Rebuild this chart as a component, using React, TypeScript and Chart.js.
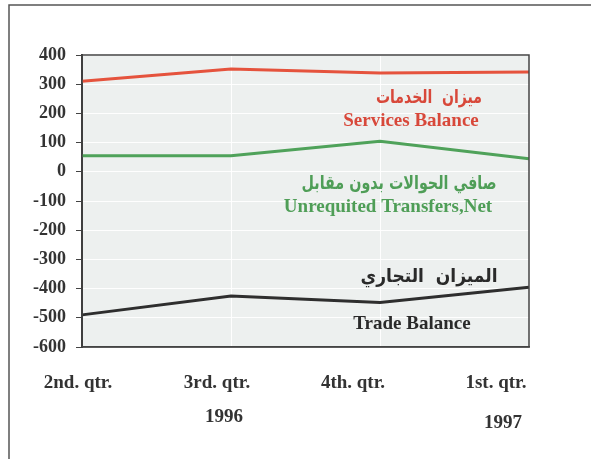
import React, { useEffect, useRef } from "react";
import { Chart, registerables } from "chart.js";

Chart.register(...registerables);

const categories = ["2nd. qtr.", "3rd. qtr.", "4th. qtr.", "1st. qtr."];
const yearLabels = ["", "1996", "", "1997"];
const servicesBalance = [310, 352, 338, 342];
const unrequitedTransfers = [55, 55, 105, 45];
const tradeBalance = [-490, -425, -448, -395];
const yTicks = [400, 300, 200, 100, 0, -100, -200, -300, -400, -500, -600];

const annotations = [
  { text: "ميزان  الخدمات", x: 429, y: 98, w: 106, color: "#d8483a", font: "bold 19px 'DejaVu Sans'" },
  { text: "Services Balance", x: 411, y: 121, w: 0, color: "#d8483a", font: "bold 19px 'Liberation Serif'" },
  { text: "صافي الحوالات بدون مقابل", x: 399, y: 184, w: 195, color: "#4f9e57", font: "bold 19px 'DejaVu Sans'" },
  { text: "Unrequited Transfers,Net", x: 388, y: 207, w: 0, color: "#4f9e57", font: "bold 19px 'Liberation Serif'" },
  { text: "الميزان  التجاري", x: 429, y: 277, w: 137, color: "#2a2a2a", font: "bold 19px 'DejaVu Sans'" },
  { text: "Trade Balance", x: 412, y: 324, w: 0, color: "#2a2a2a", font: "bold 19px 'Liberation Serif'" },
];

const labelOffsets = [-4, -14, -27, -33];
const yearOffsets = [0, -7, 0, -26];

const framePlugin = {
  id: "framePlugin",
  beforeDraw(chart: any) {
    const { ctx, chartArea } = chart;
    ctx.save();
    ctx.fillStyle = "#ffffff";
    ctx.fillRect(0, 0, chart.width, chart.height);
    ctx.strokeStyle = "#555";
    ctx.lineWidth = 1.5;
    ctx.beginPath();
    ctx.moveTo(9, 459);
    ctx.lineTo(9, 5);
    ctx.lineTo(591, 5);
    ctx.stroke();
    ctx.fillStyle = "#edf0ef";
    ctx.fillRect(chartArea.left, chartArea.top, chartArea.right - chartArea.left, chartArea.bottom - chartArea.top);
    ctx.restore();
  },
  afterDatasetsDraw(chart: any) {
    const { ctx, chartArea } = chart;
    ctx.save();
    ctx.strokeStyle = "#444";
    ctx.lineWidth = 1.5;
    ctx.strokeRect(chartArea.left, chartArea.top, chartArea.right - chartArea.left, chartArea.bottom - chartArea.top);
    ctx.textAlign = "center";
    ctx.textBaseline = "middle";
    for (const a of annotations) {
      ctx.font = a.font;
      ctx.fillStyle = a.color;
      if (a.w) {
        const m = ctx.measureText(a.text).width;
        const k = a.w / m;
        ctx.save();
        ctx.translate(a.x, a.y);
        ctx.scale(k, 1);
        ctx.fillText(a.text, 0, 0);
        ctx.restore();
      } else {
        ctx.fillText(a.text, a.x, a.y);
      }
    }
    const xs = chart.scales.x;
    ctx.fillStyle = "#333";
    ctx.font = "bold 19px 'Liberation Serif'";
    categories.forEach((c, i) => {
      const px = xs.getPixelForValue(i);
      ctx.fillText(c, px + labelOffsets[i], 383);
      if (yearLabels[i]) {
        ctx.fillText(yearLabels[i], px + yearOffsets[i], i === 3 ? 423 : 417);
      }
    });
    ctx.restore();
  },
};

export default function App() {
  const ref = useRef<HTMLCanvasElement>(null);
  useEffect(() => {
    document.body.style.margin = "0";
    const chart = new Chart(ref.current as HTMLCanvasElement, {
      type: "line",
      data: {
        labels: categories,
        datasets: [
          { label: "Services Balance", data: servicesBalance, borderColor: "#e5533d", borderWidth: 3, pointRadius: 0, tension: 0 },
          { label: "Unrequited Transfers,Net", data: unrequitedTransfers, borderColor: "#4fa25a", borderWidth: 3, pointRadius: 0, tension: 0 },
          { label: "Trade Balance", data: tradeBalance, borderColor: "#2e2e2e", borderWidth: 3, pointRadius: 0, tension: 0 },
        ],
      },
      options: {
        animation: false,
        responsive: false,
        layout: { padding: { left: 0, top: 55, right: 62, bottom: 0 } },
        plugins: { legend: { display: false }, tooltip: { enabled: false } },
        scales: {
          x: {
            type: "category",
            offset: false,
            grid: { color: "rgba(255,255,255,0.9)", lineWidth: 1, drawTicks: false },
            border: { display: true, color: "#444", width: 1.5 },
            ticks: { display: false },
            afterFit: (s: any) => { s.height = 112; },
          },
          y: {
            min: -600,
            max: 400,
            afterBuildTicks: (s: any) => { s.ticks = yTicks.map((v) => ({ value: v })); },
            grid: { color: "rgba(255,255,255,0.9)", lineWidth: 1, tickColor: "#444", tickLength: 6 },
            border: { display: true, color: "#333", width: 2 },
            ticks: {
              color: "#333",
              font: { family: "'Liberation Serif'", weight: "bold", size: 18 },
              padding: 10,
            },
            afterFit: (s: any) => { s.width = 82; },
          },
        },
      },
      plugins: [framePlugin],
    } as any);
    return () => chart.destroy();
  }, []);
  return (
    <div style={{ position: "absolute", left: 0, top: 0, width: 591, height: 459 }}>
      <canvas ref={ref} width={591} height={459} style={{ width: 591, height: 459 }} />
    </div>
  );
}
